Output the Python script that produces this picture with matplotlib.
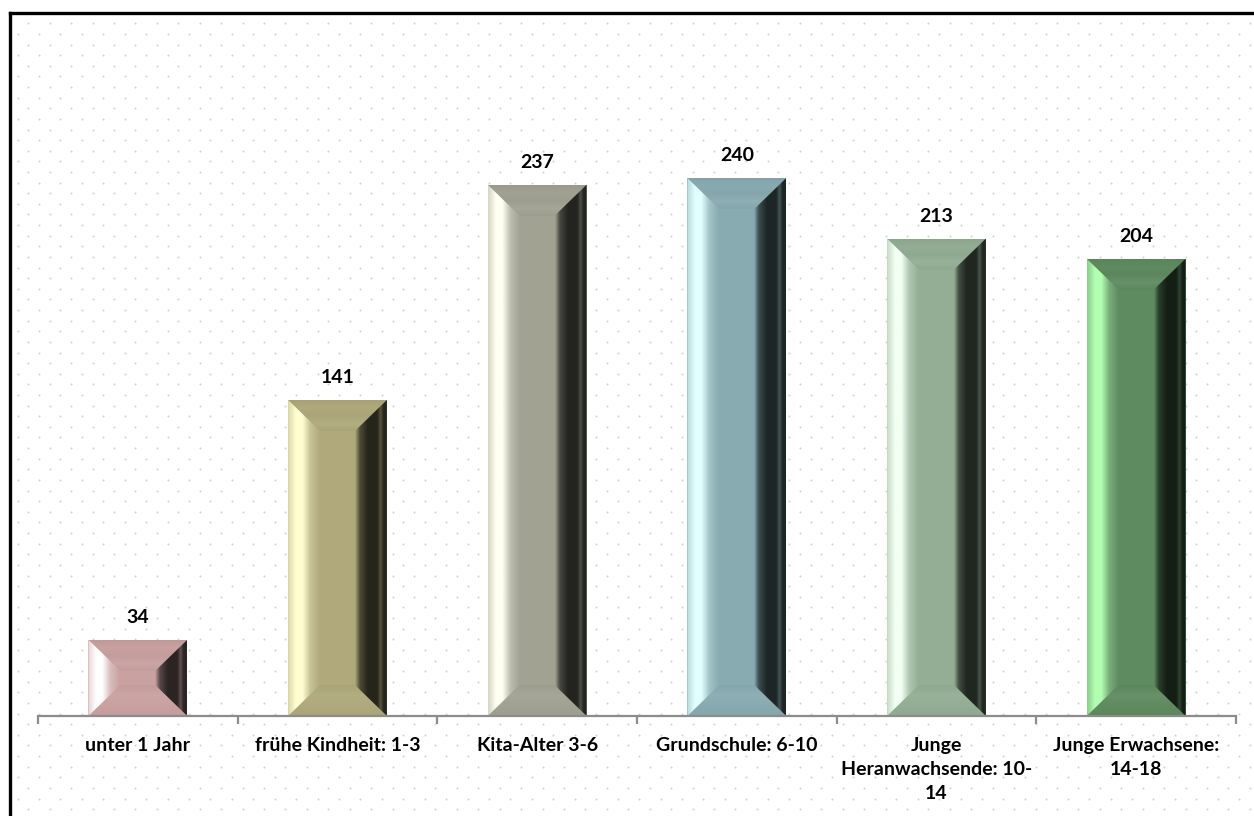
import matplotlib.pyplot as plt
import numpy as np
from matplotlib.colors import LinearSegmentedColormap, to_rgb
from matplotlib.lines import Line2D
from matplotlib.patches import Polygon

categories = [
    "unter 1 Jahr",
    "frühe Kindheit: 1-3",
    "Kita-Alter 3-6",
    "Grundschule: 6-10",
    "Junge\nHeranwachsende: 10-\n14",
    "Junge Erwachsene:\n14-18",
]
values = [34, 141, 237, 240, 213, 204]

face_colors = ["#C9A1A1", "#AFA97C", "#A2A293", "#88ABB1", "#93AE94", "#5F8B60"]
light_colors = ["#FFFFFF", "#FFFFD2", "#FFFFF2", "#E2FFFF", "#F2FFF2", "#B2FFB2"]

plt.rcParams["font.family"] = ["Lato", "DejaVu Sans"]

W, H = 1254, 816
fig = plt.figure(figsize=(W / 100, H / 100), dpi=100)
fig.patch.set_facecolor("white")

# dotted background pattern, in pixel coordinates
bg = fig.add_axes([0, 0, 1, 1], zorder=0)
bg.set_xlim(0, W)
bg.set_ylim(H, 0)
bg.axis("off")
dx_dot, dy_dot = 21.43, 10.62
rows = np.arange(23.3, H, dy_dot)
xs, ys = [], []
for r, y in enumerate(rows):
    start = 28.3 if r % 2 == 0 else 17.6
    cols = np.arange(start, W, dx_dot)
    xs.extend(cols)
    ys.extend([y] * len(cols))
bg.scatter(xs, ys, s=2.2, color="#D4D4D4", linewidths=0)

# frame lines on the left and top
fig.add_artist(Line2D([10 / W, 10 / W], [0, 1 - 13 / H], color="black", lw=2.4))
fig.add_artist(Line2D([10 / W, 1], [1 - 13 / H, 1 - 13 / H], color="black", lw=2.4))

ax_left, ax_right = 38, 1236
ax_bottom = 716
ymax = 300
ax_top = ax_bottom - ymax * (538 / 240)
ax = fig.add_axes([ax_left / W, 1 - ax_bottom / H, (ax_right - ax_left) / W,
                   (ax_bottom - ax_top) / H], zorder=1)
ax.patch.set_alpha(0)

x = np.arange(len(categories))
bars = ax.bar(x, values, width=0.495, color=face_colors, zorder=2)


def mix(c1, c2, t):
    a, b = np.array(to_rgb(c1)), np.array(to_rgb(c2))
    return tuple(a * (1 - t) + b * t)


def gradient(ax, extent, stops, clip, horizontal=True):
    cmap = LinearSegmentedColormap.from_list("g", stops)
    grad = np.linspace(0, 1, 256)
    img = grad[None, :] if horizontal else grad[:, None]
    im = ax.imshow(img, extent=extent, cmap=cmap, aspect="auto",
                   interpolation="bilinear", origin="lower", zorder=3)
    im.set_clip_path(clip)


# bevelled edges on each bar
bevel_x = 0.16
bevel_px = 31 * 240 / 538
for bar, face, light in zip(bars, face_colors, light_colors):
    x0, w, h = bar.get_x(), bar.get_width(), bar.get_height()
    x1 = x0 + w
    dx = bevel_x
    dy = min(bevel_px, h / 2)
    dark = mix(face, "black", 0.78)
    mid_dark = mix(face, "black", 0.55)

    top = Polygon([(x0, h), (x1, h), (x1 - dx, h - dy), (x0 + dx, h - dy)],
                  closed=True, facecolor="none", edgecolor="none")
    bottom = Polygon([(x0, 0), (x1, 0), (x1 - dx, dy), (x0 + dx, dy)],
                     closed=True, facecolor="none", edgecolor="none")
    left = Polygon([(x0, 0), (x0, h), (x0 + dx, h - dy), (x0 + dx, dy)],
                   closed=True, facecolor="none", edgecolor="none")
    right = Polygon([(x1, 0), (x1, h), (x1 - dx, h - dy), (x1 - dx, dy)],
                    closed=True, facecolor="none", edgecolor="none")
    for p in (top, bottom, left, right):
        ax.add_patch(p)

    gradient(ax, [x0, x1, h - dy, h],
             [mix(face, "black", 0.03), mix(face, "white", 0.05),
              mix(face, "black", 0.03), face, mix(face, "black", 0.05)],
             top, horizontal=False)
    gradient(ax, [x0, x1, 0, dy],
             [mix(face, "black", 0.03), face, mix(face, "white", 0.05),
              mix(face, "black", 0.03)],
             bottom, horizontal=False)
    gradient(ax, [x0, x0 + dx, 0, h],
             [(0.0, mix(face, light, 0.55)), (0.12, mix(face, light, 0.75)),
              (0.25, light), (0.45, light), (0.7, mix(face, light, 0.3)),
              (1.0, face)],
             left)
    gradient(ax, [x1 - dx, x1, 0, h],
             [(0.0, face), (0.15, mid_dark), (0.4, dark), (0.7, dark),
              (0.8, mix(face, "black", 0.5)), (0.9, dark), (1.0, dark)],
             right)

ax.bar_label(bars, padding=10, fontsize=14, fontweight="bold", color="black")

ax.set_xlim(-0.5, len(categories) - 0.5)
ax.set_ylim(0, ymax)
ax.set_yticks([])
for side in ("left", "right", "top"):
    ax.spines[side].set_visible(False)
ax.spines["bottom"].set_color("#8C8C8C")
ax.spines["bottom"].set_linewidth(1.6)
ax.spines["bottom"].set_zorder(4)

ax.set_xticks(x, categories, fontsize=14, fontweight="bold", linespacing=1.5)
ax.tick_params(axis="x", which="major", length=0, pad=15)
ax.set_xticks(np.arange(-0.5, len(categories)), minor=True)
ax.tick_params(axis="x", which="minor", length=6, width=1.6, color="#8C8C8C")
for lbl in ax.get_xticklabels():
    lbl.set_verticalalignment("top")

fig.savefig("out.png", dpi=100)
